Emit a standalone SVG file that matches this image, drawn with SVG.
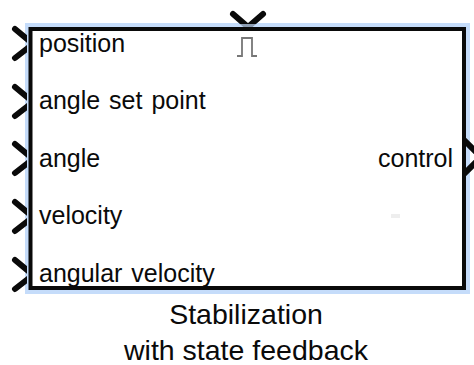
<svg xmlns="http://www.w3.org/2000/svg" width="474" height="365" viewBox="0 0 474 365">
<style>
text{font-family:"Liberation Sans",Arial,sans-serif;fill:#0a0a0a}
.p{font-size:25px;word-spacing:2px}
.c{font-size:28.500px;text-anchor:middle}
.port{fill:none;stroke:#0a0a0a;stroke-width:6;stroke-linecap:round;stroke-linejoin:miter}
</style>
<rect width="474" height="365" fill="#fff"/>
<g id="selection">
<rect x="25" y="23" width="445" height="271" fill="#c5dcfa"/>
</g>
<g id="connectors">
<path class="port" d="M15 29L33 44L15 58"/>
<path class="port" d="M15 87L33 102L15 116"/>
<path class="port" d="M15 144L33 159L15 173"/>
<path class="port" d="M15 202L33 217L15 231"/>
<path class="port" d="M15 260L33 275L15 289"/>
<path class="port" d="M233 14L248 27L263 14"/>
<path class="port" d="M462 138L481 157L462 176"/>
</g>
<g id="block">
<rect x="27" y="25" width="3" height="265" fill="#c5dcfa"/>
<rect x="225" y="24" width="46" height="3" fill="#c5dcfa" opacity="0.7"/>
<rect x="30.500" y="29" width="433.500" height="259" fill="#fff" stroke="#0a0a0a" stroke-width="4"/>
<path d="M237 56H242V38H252V56H257" fill="none" stroke="#777" stroke-width="1.800"/>
<rect x="391" y="214" width="9" height="4" fill="#eee"/>
</g>
<g id="labels">
<text class="p" x="39" y="52">position</text>
<text class="p" x="39" y="109">angle set point</text>
<text class="p" x="39" y="167">angle</text>
<text class="p" x="39" y="224">velocity</text>
<text class="p" x="39" y="282">angular velocity</text>
<text class="p" x="378" y="167">control</text>
<text class="c" x="246" y="324">Stabilization</text>
<text class="c" x="246" y="360">with state feedback</text>
</g>
</svg>
